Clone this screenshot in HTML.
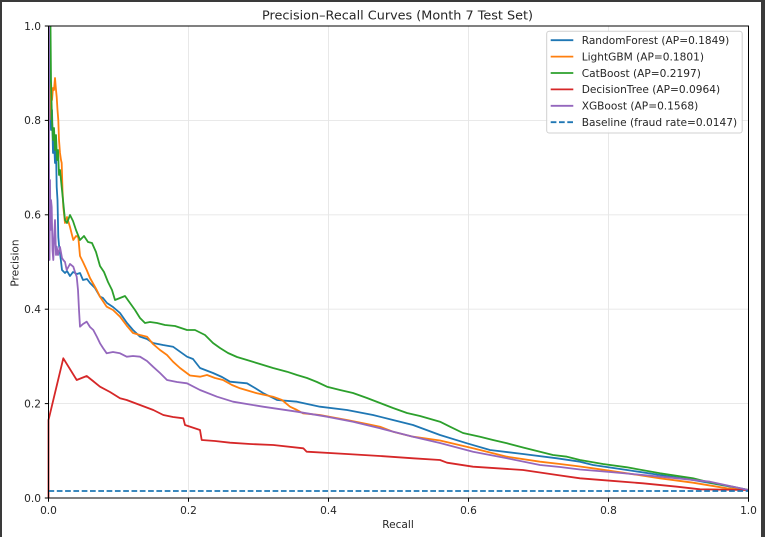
<!DOCTYPE html>
<html><head><meta charset="utf-8"><style>
html,body{margin:0;padding:0;background:#fff;}
#wrap{position:relative;width:765px;height:537px;overflow:hidden;background:#fff;}
#frame{position:absolute;left:0;top:0;width:765px;height:537px;box-sizing:border-box;border-left:2px solid #3a3a3a;border-top:2px solid #3a3a3a;border-right:4px solid #3a3a3a;}
svg{position:absolute;left:0;top:0;}
text{font-family:"DejaVu Sans","Liberation Sans",sans-serif;fill:#262626;}
</style></head><body><div id="wrap">
<svg width="765" height="537" viewBox="0 0 765 537" xmlns="http://www.w3.org/2000/svg">
<!-- grid -->
<g stroke="#e6e6e6" stroke-width="0.9">
<line x1="188.5" y1="26" x2="188.5" y2="498"/><line x1="328.5" y1="26" x2="328.5" y2="498"/><line x1="468.5" y1="26" x2="468.5" y2="498"/><line x1="608.5" y1="26" x2="608.5" y2="498"/>
<line x1="48.5" y1="403.6" x2="748.5" y2="403.6"/><line x1="48.5" y1="309.2" x2="748.5" y2="309.2"/><line x1="48.5" y1="214.8" x2="748.5" y2="214.8"/><line x1="48.5" y1="120.4" x2="748.5" y2="120.4"/>
</g>
<g fill="none" stroke-width="1.8" stroke-linejoin="round">
<!-- RandomForest -->
<path stroke="#1f77b4" d="M49.5,26 L50,100 L51,130 L52,110 L53,153 L54,140 L55,163 L56,150 L56.7,187 L57.5,200 L58.3,237 L59,245 L60,253 L62,270 L65,273 L67,271 L70,276 L73,272 L77,274 L80,273 L83,280 L87,279 L90,283 L95,288 L100,296.7 L103,298 L107,303 L113,307 L120,313 L127,323 L133,330 L140,336.7 L147,339 L153,343 L163,345 L173,346.7 L180,351.7 L187,356.7 L193,359 L200,368 L213,373 L222,377 L230,381.7 L247,383.3 L255,388 L263,393 L277,400 L297,401.7 L320,406.7 L347,410 L373,415 L393,420 L413,425 L440,435 L467,443.3 L490,450 L523,454 L557,458.3 L580,461.7 L593,465 L627,470 L660,475 L693,480 L727,486 L748.5,490"/>
<!-- LightGBM -->
<path stroke="#ff7f0e" d="M49.5,120 L50,95 L51,83 L52,100 L53,88 L54,90 L55,78 L56,90 L56.7,97 L57.5,110 L58.3,120 L59,140 L60,153 L61,160 L61.7,163 L62.5,190 L63.3,207 L65,223 L67,217 L70,227 L72,235 L73.3,240 L76,236 L78.3,237 L80,256 L83,262 L86.7,270 L90,278 L96.7,290 L100,296.7 L106.7,306.7 L113,310 L120,316.7 L127,326 L133,333 L140,335 L147,336.7 L153,344 L160,350 L167,355 L173,361.7 L180,368 L190,375.5 L200,376.7 L207,375 L215,378 L223,380 L232,385 L240,388.3 L257,393.3 L273,396.7 L282,400 L290,406.7 L297,410 L303,413.3 L320,415 L347,420 L367,424 L380,426.7 L393,431.7 L413,436.7 L440,440.5 L473,448.3 L507,456.7 L540,461.7 L560,464 L580,466.5 L593,468.3 L627,473.3 L660,478.3 L693,482.7 L727,488.3 L748.5,490"/>
<!-- CatBoost -->
<path stroke="#2ca02c" d="M50.5,26 L51,80 L52,120 L53,140 L54,128 L55,150 L56,135 L57,160 L58,150 L59,175 L60,170 L61.7,187 L63,200 L65,220 L67,223 L70,215 L73,221 L76,230 L80,240 L84,236 L88,242 L92,243 L96,252 L100,266 L104,272 L108,282 L112,290 L115,300 L120,298 L125,296 L130,303 L135,310 L140,318 L145,323 L150,322 L157,323 L165,325 L175,326 L187,330 L195,330 L205,335 L213,343 L220,348 L228,353 L237,357 L247,360 L260,364 L273,368 L287,371.7 L297,375 L307,378 L317,382 L327,386.7 L340,390 L353,393 L367,398 L380,403 L393,408 L407,413 L420,416 L440,421.7 L450,426.7 L463,433 L480,436.7 L493,440 L507,443.3 L523,447.5 L540,451.7 L553,455 L567,456.7 L580,460 L603,464 L627,467.3 L660,473.3 L693,478.3 L713,483.3 L733,486.7 L748.5,490"/>
<!-- DecisionTree -->
<path stroke="#d62728" d="M48.5,498 L48.5,420 L49.3,416.7 L63.3,358.3 L76.7,380 L86.7,376 L93,381 L100,386.7 L110,392 L120,398.3 L126.7,400 L140,405 L153.3,410 L163.3,415 L173,417 L183.3,418.3 L185,425 L200,430 L201.7,440 L215,441 L230,442.7 L250,444 L273.3,445 L303.3,448.3 L306.7,451.7 L346.7,454 L380,456 L413.3,458.3 L440,460 L447,462.7 L473,466.7 L523,470 L557,475 L580,478.3 L610,480.7 L643,483.3 L677,486.7 L700,489.3 L748.5,490"/>
<!-- XGBoost -->
<path stroke="#9467bd" d="M49,26 L49,150 L49.5,260 L50,180 L50.5,230 L51,200 L51.7,207 L52.5,250 L53.3,260 L54,240 L55,220 L56,255 L56.7,246.7 L58,255 L60,247 L62,258 L63.3,260 L65,262 L66.7,270 L70,264 L73.3,266.7 L75,272 L76.7,276.7 L78,290 L79,310 L80,326.7 L83,324 L86.7,321.7 L90,327 L93.3,330 L97,337 L100,343.3 L103,348 L106.7,353.3 L113,352 L120,353.3 L126.7,356.7 L133,356 L140,356.7 L147,361 L153,366.7 L160,373 L167,380 L177,382 L187,383.3 L200,390 L217,396.7 L233,401.7 L263,406.7 L297,411.7 L327,416.7 L353,421.7 L380,428.3 L413,436.7 L440,443 L473,451.7 L507,458.3 L540,465 L560,467 L580,469.5 L610,472 L643,475 L677,478.3 L710,481.7 L748.5,490"/>
<!-- Baseline -->
<line x1="48.5" y1="491" x2="748.5" y2="491" stroke="#1f77b4" stroke-dasharray="5.7,2.6"/>
</g>
<!-- axes box -->
<rect x="48.5" y="26" width="700" height="472" fill="none" stroke="#000" stroke-width="1"/>
<!-- ticks -->
<g stroke="#000" stroke-width="1">
<line x1="48.5" y1="498" x2="48.5" y2="501.7"/><line x1="188.5" y1="498" x2="188.5" y2="501.7"/><line x1="328.5" y1="498" x2="328.5" y2="501.7"/><line x1="468.5" y1="498" x2="468.5" y2="501.7"/><line x1="608.5" y1="498" x2="608.5" y2="501.7"/><line x1="748.5" y1="498" x2="748.5" y2="501.7"/>
<line x1="44.8" y1="498" x2="48.5" y2="498"/><line x1="44.8" y1="403.6" x2="48.5" y2="403.6"/><line x1="44.8" y1="309.2" x2="48.5" y2="309.2"/><line x1="44.8" y1="214.8" x2="48.5" y2="214.8"/><line x1="44.8" y1="120.4" x2="48.5" y2="120.4"/><line x1="44.8" y1="26" x2="48.5" y2="26"/>
</g>
<g font-size="10.6" text-anchor="middle">
<text x="48.5" y="514">0.0</text><text x="188.5" y="514">0.2</text><text x="328.5" y="514">0.4</text><text x="468.5" y="514">0.6</text><text x="608.5" y="514">0.8</text><text x="748.5" y="514">1.0</text>
</g>
<g font-size="10.6" text-anchor="end">
<text x="41" y="501.8">0.0</text><text x="41" y="407.4">0.2</text><text x="41" y="313">0.4</text><text x="41" y="218.6">0.6</text><text x="41" y="124.2">0.8</text><text x="41" y="29.8">1.0</text>
</g>
<text x="398" y="528" font-size="10.6" text-anchor="middle">Recall</text>
<text transform="translate(18.3,263) rotate(-90)" font-size="10.6" text-anchor="middle">Precision</text>
<text x="397.5" y="19.3" font-size="12.7" text-anchor="middle" textLength="271" lengthAdjust="spacingAndGlyphs">Precision–Recall Curves (Month 7 Test Set)</text>
<!-- legend -->
<rect x="546.7" y="31.3" width="195.5" height="101.7" rx="2.5" ry="2.5" fill="#fff" fill-opacity="0.85" stroke="#d0d0d0" stroke-width="1"/>
<g stroke-width="1.8">
<line x1="550.7" y1="40.2" x2="573.3" y2="40.2" stroke="#1f77b4"/>
<line x1="550.7" y1="56.6" x2="573.3" y2="56.6" stroke="#ff7f0e"/>
<line x1="550.7" y1="73" x2="573.3" y2="73" stroke="#2ca02c"/>
<line x1="550.7" y1="89.4" x2="573.3" y2="89.4" stroke="#d62728"/>
<line x1="550.7" y1="105.8" x2="573.3" y2="105.8" stroke="#9467bd"/>
<line x1="550.7" y1="122.2" x2="573.3" y2="122.2" stroke="#1f77b4" stroke-dasharray="5.7,2.6"/>
</g>
<g font-size="10.6">
<text x="581.7" y="44">RandomForest (AP=0.1849)</text>
<text x="581.7" y="60.4">LightGBM (AP=0.1801)</text>
<text x="581.7" y="76.8">CatBoost (AP=0.2197)</text>
<text x="581.7" y="93.2">DecisionTree (AP=0.0964)</text>
<text x="581.7" y="109.6">XGBoost (AP=0.1568)</text>
<text x="581.7" y="126">Baseline (fraud rate=0.0147)</text>
</g>
</svg>
<div id="frame"></div>
</div></body></html>
